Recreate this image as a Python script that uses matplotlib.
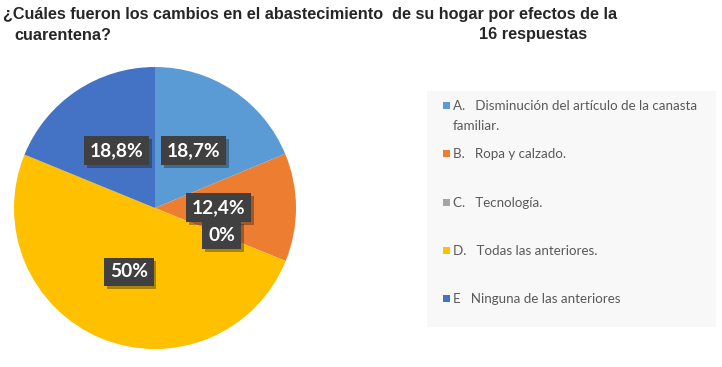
import matplotlib
matplotlib.use("Agg")
import matplotlib.pyplot as plt
import matplotlib.patheffects as pe
from matplotlib.patches import Rectangle
import numpy as np

categories = ["A.   Disminución del artículo de la canasta\nfamiliar.",
              "B.   Ropa y calzado.",
              "C.   Tecnología.",
              "D.   Todas las anteriores.",
              "E   Ninguna de las anteriores"]
values = [18.7, 12.4, 0.0, 50.0, 18.8]
value_labels = ["18,7%", "12,4%", "0%", "50%", "18,8%"]
colors = ["#5B9BD5", "#ED7D31", "#A5A5A5", "#FFC000", "#4472C4"]
title_line1 = "¿Cuáles fueron los cambios en el abastecimiento  de su hogar por efectos de la"
title_line2 = "cuarentena?"
subtitle = "16 respuestas"

title_font = "Liberation Sans"

W, H = 722, 367
fig = plt.figure(figsize=(W / 100, H / 100), dpi=100)
fig.patch.set_facecolor("white")

# pie axes
cx, cy, R = 155, 208, 141
ax = fig.add_axes([(cx - R) / W, (H - cy - R) / H, 2 * R / W, 2 * R / H])
wedges, _ = ax.pie(values, colors=colors, startangle=90, counterclock=False,
                   radius=1, wedgeprops=dict(linewidth=0))
ax.set_xlim(-1, 1)
ax.set_ylim(-1, 1)
ax.set_aspect("equal")
ax.axis("off")

dists = [0.49, 0.45, 0.51, 0.49, 0.49]
for w, lab, d in zip(wedges, value_labels, dists):
    ang = np.deg2rad((w.theta1 + w.theta2) / 2)
    t = ax.text(d * np.cos(ang), d * np.sin(ang), lab, ha="center", va="center",
                fontsize=13.8, fontweight="bold", color="white", family="Lato",
                bbox=dict(boxstyle="square,pad=0.3", fc="#404040", ec="none"))
    t.get_bbox_patch().set_path_effects([pe.SimplePatchShadow(offset=(2, -2), alpha=0.35), pe.Normal()])

# title
fig.text(3 / W, 1 - 15 / H, title_line1, fontsize=11.7, fontweight="bold",
         family=title_font, color="#262626", va="center", ha="left")
fig.text(14 / W, 1 - 35 / H, title_line2, fontsize=11.7, fontweight="bold",
         family=title_font, color="#262626", va="center", ha="left")
fig.text(533 / W, 1 - 35 / H, subtitle, fontsize=11.7, fontweight="bold",
         family=title_font, color="#262626", va="center", ha="center")

# legend
fig.patches.append(Rectangle((427 / W, 1 - 327 / H), (716 - 427) / W, (327 - 91) / H,
                             transform=fig.transFigure, fc="#F8F8F8", ec="none"))
ys = [105, 153, 202, 250, 298]
for y, lab, c in zip(ys, categories, colors):
    fig.patches.append(Rectangle((443 / W, 1 - (y + 3.5) / H), 7 / W, 7 / H,
                                 transform=fig.transFigure, fc=c, ec="none"))
    fig.text(453 / W, 1 - (y - 5) / H, lab, fontsize=9.6, family="Lato",
             color="#595959", va="top", ha="left", linespacing=1.85)

fig.savefig("out.png", dpi=100, facecolor="white")
